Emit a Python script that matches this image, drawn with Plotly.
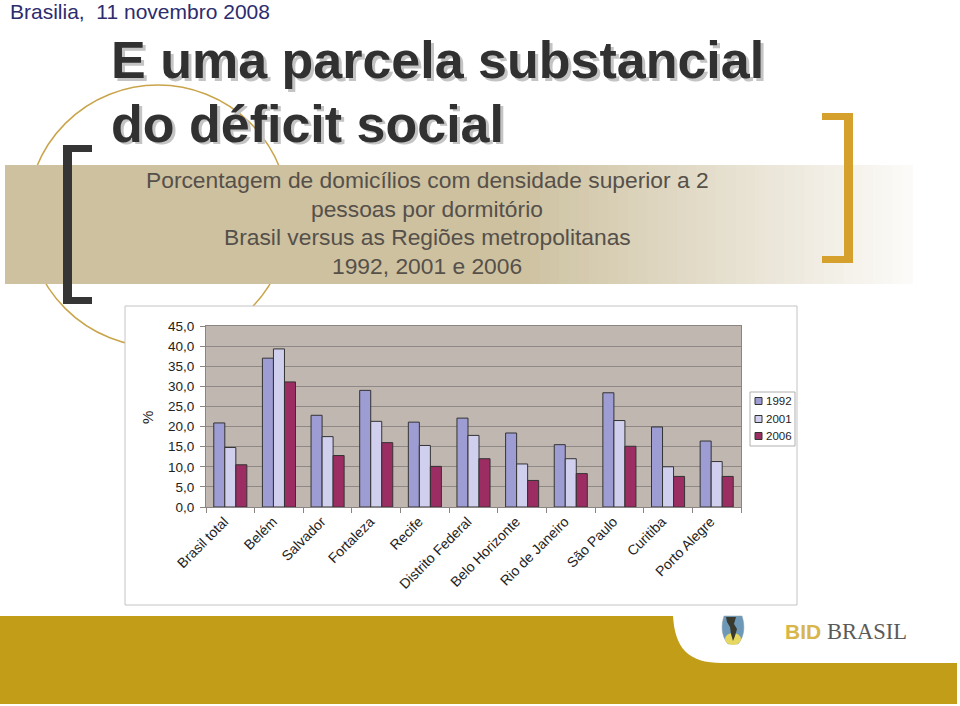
import plotly.graph_objects as go

# ---------------- data ----------------
categories = ["Brasil total", "Belém", "Salvador", "Fortaleza", "Recife",
              "Distrito Federal", "Belo Horizonte", "Rio de Janeiro",
              "São Paulo", "Curitiba", "Porto Alegre"]
v1992 = [20.9, 37.0, 22.8, 29.0, 21.1, 22.1, 18.4, 15.5, 28.4, 19.9, 16.4]
v2001 = [14.8, 39.3, 17.5, 21.3, 15.3, 17.8, 10.7, 12.0, 21.5, 10.0, 11.3]
v2006 = [10.5, 31.1, 12.8, 16.0, 10.1, 12.0, 6.6, 8.3, 15.1, 7.6, 7.6]
series_names = ["1992", "2001", "2006"]
series_values = [v1992, v2001, v2006]
series_colors = ["#9d9dd3", "#d0d0ee", "#9b2d62"]
y_ticks = [0, 5, 10, 15, 20, 25, 30, 35, 40, 45]

W, H = 960, 706
def X(px):
    return px / W
def Y(py):
    return 1 - py / H

fig = go.Figure()
for name, vals, col in zip(series_names, series_values, series_colors):
    fig.add_trace(go.Bar(x=categories, y=vals, name=name, marker_color=col,
                         marker_line_color="#333333", marker_line_width=1,
                         showlegend=False))

shapes = []
# gold circle (behind band)
shapes.append(dict(type="circle", xref="paper", yref="paper", layer="below",
                   x0=X(27), x1=X(289), y0=Y(85), y1=Y(347),
                   line=dict(color="#c9a44a", width=1.5)))
# beige band with fade to the right
band_left, band_right, fade_start = 5, 912, 520
c0 = (205, 193, 160)
c1 = (252, 251, 249)
shapes.append(dict(type="rect", xref="paper", yref="paper", layer="below",
                   x0=X(band_left), x1=X(fade_start + 1), y0=Y(165), y1=Y(284),
                   line=dict(width=0), fillcolor="rgb(%d,%d,%d)" % c0))
nstrips = 40
step = (band_right - fade_start) / nstrips
for i in range(nstrips):
    t = (i + 0.5) / nstrips
    col = tuple(int(round(c0[k] + (c1[k] - c0[k]) * t)) for k in range(3))
    shapes.append(dict(type="rect", xref="paper", yref="paper", layer="below",
                       x0=X(fade_start + i * step), x1=X(fade_start + (i + 1) * step + 0.8),
                       y0=Y(165), y1=Y(284), line=dict(width=0),
                       fillcolor="rgb(%d,%d,%d)" % col))
# left dark bracket
for (a, b, c, d) in [(63, 72, 145, 304), (63, 92, 145, 152), (63, 92, 297, 304)]:
    shapes.append(dict(type="rect", xref="paper", yref="paper", layer="below",
                       x0=X(a), x1=X(b), y0=Y(c), y1=Y(d), line=dict(width=0),
                       fillcolor="#353535"))
# right gold bracket
for (a, b, c, d) in [(844, 853, 113, 263), (822, 853, 113, 120), (822, 853, 256, 263)]:
    shapes.append(dict(type="rect", xref="paper", yref="paper", layer="below",
                       x0=X(a), x1=X(b), y0=Y(c), y1=Y(d), line=dict(width=0),
                       fillcolor="#d5a02c"))
# chart frame
shapes.append(dict(type="rect", xref="paper", yref="paper", layer="below",
                   x0=X(125), x1=X(797), y0=Y(306), y1=Y(605),
                   line=dict(color="#c4c4c4", width=1), fillcolor="white"))
# plot area background
shapes.append(dict(type="rect", xref="x domain", yref="y domain", layer="below",
                   x0=0, x1=1, y0=0, y1=1, line=dict(width=0), fillcolor="#c1b7b1"))
# bottom gold band with white cut-out
def P(px, py):
    return "%.5f,%.5f" % (X(px), Y(py))
path = ("M " + P(0, 616) + " L " + P(673, 616) + " C " + P(675, 648) + " " +
        P(688, 663) + " " + P(722, 663) + " L " + P(957, 663) + " L " + P(957, 704) +
        " L " + P(0, 704) + " Z")
shapes.append(dict(type="path", xref="paper", yref="paper", layer="below",
                   path=path, line=dict(width=0), fillcolor="#c19d18"))
# small logo
logo = ("M " + P(724, 616) + " L " + P(742, 616) + " C " + P(745, 625) + " " +
        P(745, 636) + " " + P(738, 644) + " L " + P(728, 644) + " C " + P(721, 636) +
        " " + P(721, 625) + " " + P(724, 616) + " Z")
shapes.append(dict(type="path", xref="paper", yref="paper", layer="below",
                   path=logo, line=dict(color="#8aa0a8", width=0.5), fillcolor="#6e98b8"))
shapes.append(dict(type="circle", xref="paper", yref="paper", layer="below",
                   x0=X(725), x1=X(741), y0=Y(633), y1=Y(645), line=dict(width=0),
                   fillcolor="#e6d760"))
americas = ("M " + P(726, 617) + " L " + P(736, 617) + " L " + P(734, 624) + " L " +
            P(737, 629) + " L " + P(735, 636) + " L " + P(733, 641) + " L " + P(731, 634) +
            " L " + P(730, 627) + " L " + P(727, 622) + " Z")
shapes.append(dict(type="path", xref="paper", yref="paper", layer="below",
                   path=americas, line=dict(width=0), fillcolor="#3a3a2e"))

# legend (manual, small squares)
shapes.append(dict(type="rect", xref="paper", yref="paper", layer="above",
                   x0=X(750), x1=X(795), y0=Y(392), y1=Y(446),
                   line=dict(color="#b0b0b0", width=1), fillcolor="white"))
legend_rows = [401, 419, 436]
for yy, col in zip(legend_rows, series_colors):
    shapes.append(dict(type="rect", xref="paper", yref="paper", layer="above",
                       x0=X(755), x1=X(762), y0=Y(yy - 3.5), y1=Y(yy + 3.5),
                       line=dict(color="#333333", width=1), fillcolor=col))

annotations = []
def txt(text, px, py, size, color, xanchor="left", family="Liberation Sans", **kw):
    annotations.append(dict(text=text, x=X(px), y=Y(py), xref="paper", yref="paper",
                            xanchor=xanchor, yanchor="middle", showarrow=False,
                            borderpad=0, font=dict(family=family, size=size, color=color),
                            **kw))

txt("Brasilia,\u00a0 11 novembro 2008", 9, 12, 21, "#2c2c6e")
# title with shadow
for (dx, dy, col) in [(2.5, 2.5, "#c4c4c4"), (0, 0, "#313131")]:
    txt("<b>E uma parcela substancial</b>", 110 + dx, 60 + dy, 52, col)
    txt("<b>do déficit social</b>", 110 + dx, 124 + dy, 52, col)
sub_lines = ["Porcentagem de domicílios com densidade superior a 2",
             "pessoas por dormitório",
             "Brasil versus as Regiões metropolitanas",
             "1992, 2001 e 2006"]
for i, line in enumerate(sub_lines):
    txt(line, 427, 180 + i * 28.7, 22.8, "#56504a", xanchor="center")
# y axis title
txt("%", 147, 418, 15, "#222222", xanchor="center", textangle=-90)
# legend labels
for yy, name in zip(legend_rows, series_names):
    txt(name, 765, yy, 11.5, "#222222")
# BID BRASIL
txt("<b>BID</b>", 784, 631, 21, "#d8b64c")
txt("BRASIL", 826, 631, 22.5, "#5a5a5a", family="Liberation Serif")

fig.update_layout(
    width=W, height=H, autosize=False,
    margin=dict(l=0, r=0, t=0, b=0, pad=0, autoexpand=False),
    paper_bgcolor="white",
    plot_bgcolor="rgba(0,0,0,0)",
    barmode="group", bargap=0.32, bargroupgap=0,
    separators=", ",
    shapes=shapes, annotations=annotations,
    showlegend=False,
    font=dict(family="Liberation Sans", color="#222222"),
    xaxis=dict(domain=[X(206), X(741)], tickangle=-45, automargin=False,
               tickfont=dict(size=14, color="#222222", family="Liberation Sans"),
               ticklabelshift=-6,
               showline=True, linecolor="#8a8583", linewidth=1, mirror=True,
               ticks="outside", ticklen=5, tickcolor="#8a8583", tickson="boundaries",
               showgrid=False),
    yaxis=dict(domain=[Y(507), Y(326)], range=[0, 45], tickvals=y_ticks, automargin=False,
               tickformat=".1f", ticklabelstandoff=3,
               tickfont=dict(size=13.5, color="#222222", family="Liberation Sans"),
               showline=True, linecolor="#8a8583", linewidth=1, mirror=True,
               ticks="outside", ticklen=5, tickcolor="#8a8583",
               showgrid=True, gridcolor="#8e8987", gridwidth=1, zeroline=False),
)

post = ("document.body.style.margin='0';document.body.style.padding='0';"
        "document.body.style.overflow='hidden';"
        "document.documentElement.style.overflow='hidden';")
fig.write_html("out.html", config={"responsive": False, "displayModeBar": False},
               post_script=post)
